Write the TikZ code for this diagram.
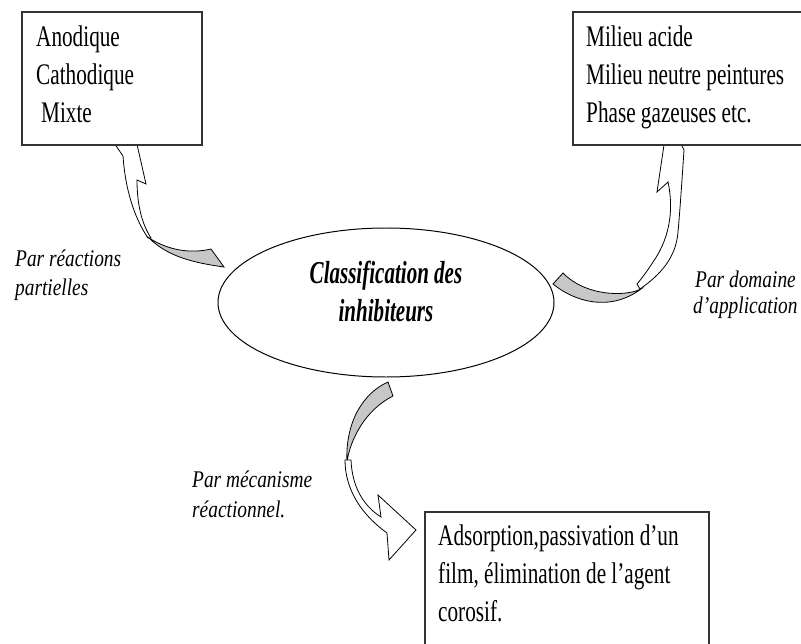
\documentclass[tikz,border=0pt]{standalone}
\usepackage{fontspec}
\setmainfont{Liberation Serif}
\newfontfamily\boxfont[FakeStretch=0.71]{Liberation Serif}
\newfontfamily\ellfont[FakeStretch=0.66]{Liberation Serif}
\newfontfamily\lblfont[FakeStretch=0.81]{Liberation Serif}
\usetikzlibrary{shapes.geometric}
\tikzset{
 boxtxt/.style={inner sep=0pt, anchor=base west, font=\boxfont\fontsize{30}{38}\selectfont},
 lbl/.style={inner sep=0pt, anchor=base west, font=\lblfont\itshape\fontsize{24}{29}\selectfont},
 elltxt/.style={inner sep=0pt, anchor=base, font=\ellfont\bfseries\itshape\fontsize{32}{39}\selectfont},
 frame/.style={draw=black!80, line width=1.3pt, fill=white},
 arrw/.style={draw=black, line width=0.8pt, fill=white, line join=miter},
 arrg/.style={draw=black, line width=0.8pt, fill=black!22},
}
\begin{document}
\begin{tikzpicture}[x=1bp,y=-1bp]
\useasboundingbox (0,0) rectangle (801,644);
\clip (0,0) rectangle (801,644);
% curved arrows
\draw[arrw] (148,238) .. controls (133,216) and (125,186) .. (123,156) -- (112,140) -- (131,118) -- (146,184) -- (137,180) .. controls (137,205) and (142,224) .. (151,238) -- cycle;
\draw[arrg] (149,238) .. controls (168,257) and (195,263) .. (224,267) -- (211,249) .. controls (190,254) and (168,250) .. (149,238) -- cycle;
\draw[arrw] (640,289) .. controls (660,275) and (676,258) .. (678,232) .. controls (680,210) and (682,180) .. (684,150) -- (668,118) -- (657,192) -- (668,182) .. controls (673,205) and (672,235) .. (653,262) .. controls (648,270) and (642,278) .. (637,284) -- cycle;
\draw[arrg] (553,284) .. controls (575,302) and (610,312) .. (641,289) .. controls (625,297) and (585,296) .. (563,273) -- cycle;
\draw[arrg] (388,382) .. controls (365,392) and (345,420) .. (347,462) .. controls (350,440) and (365,410) .. (393,396) -- cycle;
\draw[arrw] (345,460) .. controls (345,490) and (362,515) .. (387,533) -- (389,560) -- (416,530) -- (378,495) -- (381,517) .. controls (362,505) and (352,485) .. (351,460) -- cycle;
% boxes
\draw[frame] (22,12) rectangle (202,145);
\draw[frame] (573,12) rectangle (812,145);
\draw[frame] (425,512) rectangle (709,660);
\node[boxtxt] (a1) at (36,47) {Anodique};
\node[boxtxt] (a2) at (36,85) {Cathodique};
\node[boxtxt] (a3) at (41,123) {Mixte};
\node[boxtxt] (b1) at (586,47) {Milieu acide};
\node[boxtxt] (b2) at (586,85) {Milieu neutre peintures};
\node[boxtxt] (b3) at (586,123) {Phase gazeuses etc.};
\node[boxtxt] (c1) at (438,545) {Adsorption,passivation d’un};
\node[boxtxt] (c2) at (438,583) {film, élimination de l’agent};
\node[boxtxt] (c3) at (438,621) {corosif.};
% ellipse
\node[ellipse, draw, line width=1pt, minimum width=336bp, minimum height=149bp, inner sep=0pt] (cls) at (386,302.5) {};
\node[elltxt] (e1) at (386,283) {Classification des};
\node[elltxt] (e2) at (386,321) {inhibiteurs};
% labels
\node[lbl] (l1) at (15,266) {Par réactions};
\node[lbl] (l2) at (15,295) {partielles};
\node[lbl] (r1) at (695,287) {Par domaine};
\node[lbl] (r2) at (693,313) {d’application};
\node[lbl] (m1) at (192,487) {Par mécanisme};
\node[lbl] (m2) at (192,517) {réactionnel.};
\end{tikzpicture}
\end{document}
